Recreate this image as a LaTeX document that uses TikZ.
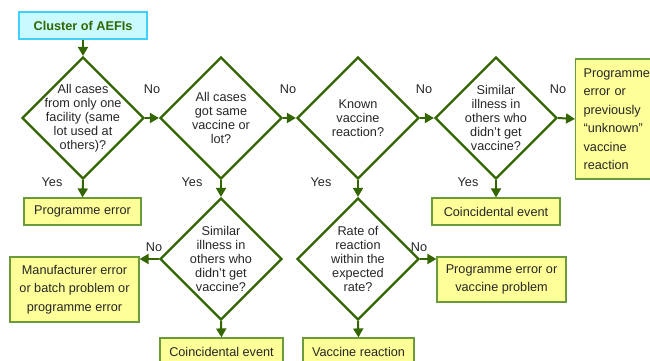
\documentclass[tikz,border=0pt]{standalone}
\usepackage{fontspec}
\setmainfont{Liberation Sans}
\usetikzlibrary{shapes.geometric,arrows.meta}
\definecolor{leaf}{HTML}{336600}
\definecolor{boxedge}{HTML}{6B9A3A}
\definecolor{boxfill}{HTML}{FFFF99}
\definecolor{skyedge}{HTML}{3FD0FF}
\definecolor{skyfill}{HTML}{C8FAFF}
\newcommand{\qfont}{\fontsize{12.7}{14}\selectfont}
\newcommand{\bfont}{\fontsize{12.7}{18.5}\selectfont}

\begin{document}
\begin{tikzpicture}[x=1pt, y=-1pt,
	decision/.style={diamond, draw=leaf, line width=2.2pt, inner sep=0pt, minimum width=122pt, minimum height=122pt},
	ask/.style={align=center, font=\qfont, text=black!85},
	outcome/.style={draw=boxedge, fill=boxfill, line width=1.2pt, align=center, inner sep=0pt, font=\bfont, text=black!85},
	flow/.style={draw=leaf, line width=2pt, -{Triangle[length=9pt,width=10pt]}},
	tag/.style={font=\qfont, text=black!85, inner sep=0pt}]
	\useasboundingbox (0,0) rectangle (650,361);

	\node[draw=skyedge, fill=skyfill, line width=1.2pt, minimum width=128pt, minimum height=27pt, inner sep=0pt, font=\qfont\bfseries, text=leaf] (cluster) at (83,25.5) {Cluster of AEFIs};

	\node[decision] (facility) at (83,118) {};
	\node[ask] (facilityq) at (facility) {All cases\\from only one\\facility (same\\lot used at\\others)?};
	\node[decision] (samelot) at (221,118) {};
	\node[ask] (samelotq) at (samelot) {All cases\\got same\\vaccine or\\lot?};
	\node[decision] (known) at (358,118) {};
	\node[ask] (knownq) at (known) {Known\\vaccine\\reaction?};
	\node[decision] (others) at (496,118) {};
	\node[ask] (othersq) at (others) {Similar\\illness in\\others who\\didn't get\\vaccine?};
	\node[decision] (othersb) at (221,259) {};
	\node[ask] (othersbq) at (othersb) {Similar\\illness in\\others who\\didn't get\\vaccine?};
	\node[decision] (rate) at (358,259) {};
	\node[ask] (rateq) at (rate) {Rate of\\reaction\\within the\\expected\\rate?};

	\node[outcome, anchor=west, minimum height=120pt, text width=60pt, align=left, inner xsep=8pt] (unknown) at (575,119) {Programme\\error or\\previously\\“unknown”\\vaccine\\reaction};
	\node[outcome, minimum width=117pt, minimum height=27pt] (progerr) at (82.5,211.5) {Programme error};
	\node[outcome, minimum width=128pt, minimum height=27pt] (coinc) at (496,211.5) {Coincidental event};
	\node[outcome, minimum width=129pt, minimum height=65pt] (maker) at (74.5,289.5) {Manufacturer error\\or batch problem or\\programme error};
	\node[outcome, minimum width=129pt, minimum height=45pt] (vacprob) at (501.5,279.5) {Programme error or\\vaccine problem};
	\node[outcome, minimum width=123pt, minimum height=28pt] (coincb) at (221.5,352) {Coincidental event};
	\node[outcome, minimum width=111pt, minimum height=28pt] (reaction) at (358.5,352) {Vaccine reaction};

	\draw[flow] (cluster.south) -- (facility.north);
	\draw[flow] (facility.east) -- (samelot.west);
	\draw[flow] (samelot.east) -- (known.west);
	\draw[flow] (known.east) -- (others.west);
	\draw[flow] (others.east) -- (unknown.west);
	\draw[flow] (facility.south) -- (progerr.north);
	\draw[flow] (samelot.south) -- (othersb.north);
	\draw[flow] (known.south) -- (rate.north);
	\draw[flow] (others.south) -- (coinc.north);
	\draw[flow] (othersb.west) -- (othersb.west -| maker.east);
	\draw[flow] (othersb.south) -- (coincb.north);
	\draw[flow] (rate.east) -- (rate.east -| vacprob.west);
	\draw[flow] (rate.south) -- (reaction.north);

	\node[tag] (no1) at (152,89) {No};
	\node[tag] (no2) at (288,89) {No};
	\node[tag] (no3) at (424,89) {No};
	\node[tag] (no4) at (558,89) {No};
	\node[tag] (no5) at (154,247) {No};
	\node[tag] (no6) at (419,247) {No};
	\node[tag] (yes1) at (52,182) {Yes};
	\node[tag] (yes2) at (192,182) {Yes};
	\node[tag] (yes3) at (321,182) {Yes};
	\node[tag] (yes4) at (468,182) {Yes};
\end{tikzpicture}
\end{document}
